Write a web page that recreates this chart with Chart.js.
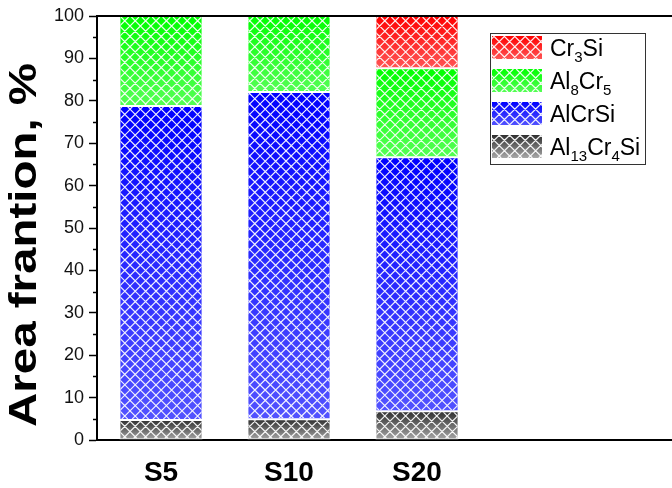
<!DOCTYPE html>
<html>
<head>
<meta charset="utf-8">
<script src="https://cdn.jsdelivr.net/npm/chart.js@4.4.1/dist/chart.umd.min.js"></script>
<style>
  html, body { margin: 0; padding: 0; background: #fff; }
  #clip { width: 672px; height: 488px; overflow: hidden; position: relative; }
  #wrap { position: absolute; left: 0; top: 0; width: 760px; height: 488px; }
</style>
</head>
<body>
<div id="clip"><div id="wrap"><canvas id="c" width="760" height="488"></canvas></div></div>
<script>
// ---------- data ----------
const categories = ['S5', 'S10', 'S20', '', ''];
const seriesNames = ['Al13Cr4Si', 'AlCrSi', 'Al8Cr5', 'Cr3Si'];   // bottom -> top
const al13cr4si = [4.7, 4.9, 6.8];
const alcrsi    = [74.1, 77.2, 59.9];
const al8cr5    = [21.2, 17.9, 21.0];
const cr3si     = [0, 0, 12.3];
const seriesValues = [al13cr4si, alcrsi, al8cr5, cr3si];
const yMin = 0, yMax = 100, yStep = 10, yMinorStep = 5;
const yTitle = 'Area frantion, %';

// ---------- style ----------
const FONT = "'Liberation Sans', Arial, sans-serif";
const topColors    = ['#2e2e2e', '#0000ff', '#00ff00', '#ff0000'];
const bottomColors = ['#a8a8a8', '#5252ff', '#55ff55', '#ff5555'];

function gradientFor(chart, top, bottom, cTop, cBot) {
  const g = chart.ctx.createLinearGradient(0, top, 0, bottom);
  g.addColorStop(0, cTop);
  g.addColorStop(1, cBot);
  return g;
}

function makeBg(dsIndex) {
  return function (c) {
    const chart = c.chart;
    const y = chart.scales && chart.scales.y;
    if (!chart.chartArea || !y || c.dataIndex === undefined) return topColors[dsIndex];
    let start = 0;
    for (let k = 0; k < dsIndex; k++) start += (seriesValues[k][c.dataIndex] || 0);
    const end = start + (seriesValues[dsIndex][c.dataIndex] || 0);
    const yt = y.getPixelForValue(end), yb = y.getPixelForValue(start);
    if (!isFinite(yt) || !isFinite(yb) || yb - yt < 0.5) return topColors[dsIndex];
    return gradientFor(chart, yt, yb, topColors[dsIndex], bottomColors[dsIndex]);
  };
}

function drawHatch(ctx, l, t, w, h) {
  const p = 10.4;
  ctx.save();
  ctx.beginPath();
  ctx.rect(l, t, w, h);
  ctx.clip();
  ctx.strokeStyle = 'rgba(255,255,255,0.92)';
  ctx.lineWidth = 1.2;
  ctx.beginPath();
  // lines x - y = c
  for (let c = Math.floor((l - (t + h)) / p) * p; c <= l + w - t + p; c += p) {
    ctx.moveTo(c + t, t);
    ctx.lineTo(c + t + h, t + h);
  }
  // lines x + y = c
  for (let c = Math.floor((l + t) / p) * p; c <= l + w + t + h + p; c += p) {
    ctx.moveTo(c - t, t);
    ctx.lineTo(c - t - h, t + h);
  }
  ctx.stroke();
  ctx.restore();
}

const hatchPlugin = {
  id: 'hatch',
  afterDatasetsDraw(chart) {
    const ctx = chart.ctx;
    chart.data.datasets.forEach((ds, i) => {
      const meta = chart.getDatasetMeta(i);
      meta.data.forEach(el => {
        const { x, y, base, width } = el.getProps(['x', 'y', 'base', 'width'], true);
        const h = base - y;
        if (!(h > 1)) return;
        drawHatch(ctx, x - width / 2 + 1, y + 1, width - 2, h - 2);
      });
    });
  }
};

function drawFormula(ctx, text, x, yBase, size, subSize, subDrop) {
  let cx = x;
  const parts = text.match(/\d+|\D+/g);
  parts.forEach(part => {
    const isSub = /^\d+$/.test(part);
    ctx.font = (isSub ? subSize : size) + 'px ' + FONT;
    ctx.fillText(part, cx, yBase + (isSub ? subDrop : 0));
    cx += ctx.measureText(part).width;
  });
}

const framePlugin = {
  id: 'frame',
  afterDraw(chart) {
    const ctx = chart.ctx;
    const a = chart.chartArea;
    const y = chart.scales.y;
    ctx.save();
    // top frame line
    ctx.strokeStyle = '#000';
    ctx.lineWidth = 2;
    ctx.beginPath();
    ctx.moveTo(a.left, a.top);
    ctx.lineTo(a.right, a.top);
    ctx.stroke();
    // minor ticks
    ctx.lineWidth = 1.5;
    ctx.beginPath();
    for (let v = yMin + yMinorStep; v < yMax; v += yStep) {
      const py = Math.round(y.getPixelForValue(v)) + 0.5;
      ctx.moveTo(a.left - 4, py);
      ctx.lineTo(a.left, py);
    }
    ctx.stroke();

    // y title
    ctx.save();
    ctx.translate(25, 245);
    ctx.rotate(-Math.PI / 2);
    ctx.font = 'bold 39px ' + FONT;
    const w = ctx.measureText(yTitle).width;
    ctx.scale(364 / w, 1);
    ctx.fillStyle = '#000';
    ctx.textAlign = 'center';
    ctx.textBaseline = 'middle';
    ctx.fillText(yTitle, 0, 0);
    ctx.restore();

    // legend
    const lx = 490, ly = 33, lw = 155, lh = 131;
    ctx.fillStyle = '#fff';
    ctx.fillRect(lx, ly, lw, lh);
    ctx.strokeStyle = '#333';
    ctx.lineWidth = 1;
    ctx.strokeRect(lx + 0.5, ly + 0.5, lw, lh);
    const order = [3, 2, 1, 0];
    order.forEach((si, row) => {
      const sy = 36 + row * 33;
      const sx = 492, sw = 50, sh = 23;
      ctx.fillStyle = gradientFor(chart, sy, sy + sh, topColors[si], bottomColors[si]);
      ctx.fillRect(sx, sy, sw, sh);
      drawHatch(ctx, sx, sy, sw, sh);
      ctx.fillStyle = '#000';
      ctx.textAlign = 'left';
      ctx.textBaseline = 'alphabetic';
      drawFormula(ctx, seriesNames[si], 550, sy + sh / 2 + 8, 23, 15, 6);
    });
    ctx.restore();
  }
};

const datasets = seriesNames.map((name, i) => ({
  label: name,
  data: seriesValues[i],
  backgroundColor: makeBg(i),
  borderColor: 'rgba(255,255,255,0.85)',
  borderWidth: 1,
  borderSkipped: false,
  barPercentage: 0.65,
  categoryPercentage: 1.0
}));

new Chart(document.getElementById('c'), {
  type: 'bar',
  data: { labels: categories, datasets },
  options: {
    responsive: false,
    devicePixelRatio: 1,
    animation: false,
    layout: { padding: { left: 0, right: 23, top: 16, bottom: 0 } },
    plugins: { legend: { display: false }, tooltip: { enabled: false } },
    scales: {
      x: {
        stacked: true,
        grid: { display: false, drawTicks: false },
        border: { display: true, color: '#000', width: 2 },
        ticks: { color: '#000', font: { family: FONT, size: 28, weight: 'bold' }, padding: 16, maxRotation: 0 },
        afterFit(s) { s.height = 48; }
      },
      y: {
        stacked: true,
        min: yMin, max: yMax,
        grid: { display: true, drawOnChartArea: false, drawTicks: true, tickLength: 8, tickWidth: 1.5, tickColor: '#000' },
        border: { display: true, color: '#000', width: 2 },
        ticks: { stepSize: yStep, color: '#111', font: { family: FONT, size: 18 }, padding: 5 },
        afterFit(s) { s.width = 97; }
      }
    }
  },
  plugins: [hatchPlugin, framePlugin]
});
</script>
</body>
</html>
